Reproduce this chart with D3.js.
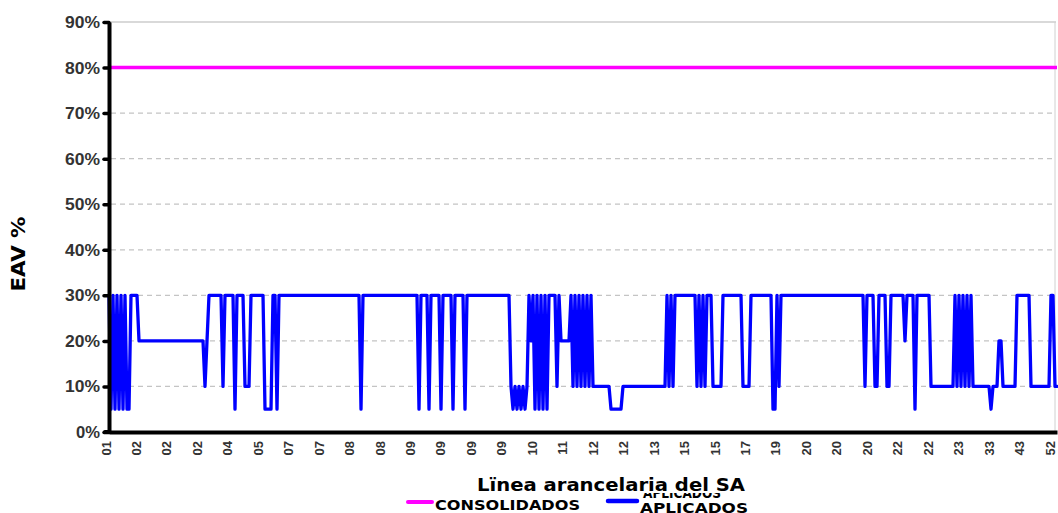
<!DOCTYPE html>
<html>
<head>
<meta charset="utf-8">
<script src="https://cdn.jsdelivr.net/npm/d3@7"></script>
<style>
  html, body { margin: 0; padding: 0; background: #ffffff; }
  svg { display: block; }
</style>
</head>
<body>
<svg id="chart" width="1058" height="513"></svg>
<script>
// ---- DATA ----
// Run-length encoded series: [value %, number of consecutive tariff lines]
const aplicadosRuns = [
  [30,1],[5,1],[30,1],[5,1],[30,1],[5,1],[30,1],[5,1],[30,1],[5,2],
  [30,4],[20,33],[10,1],[20,1],[30,7],[10,1],[30,5],[5,1],[30,4],[10,3],
  [30,7],[5,4],[30,2],[5,1],[30,41],[5,1],[30,28],[5,1],[30,4],[5,1],
  [30,5],[5,1],[30,5],[5,1],[30,5],[5,1],[30,22],
  [10,1],[5,1],[10,1],[5,1],[10,1],[5,1],[10,1],[5,1],[10,1],
  [30,1],[20,1],[30,1],
  [5,1],[30,1],[5,1],[30,1],[5,1],[30,1],[5,1],
  [30,4],[10,1],[30,1],[20,5],[30,1],
  [10,1],[30,1],[10,1],[30,1],[10,1],[30,1],[10,1],[30,1],[10,1],[30,1],
  [10,9],[5,6],[10,22],
  [30,1],[10,1],[30,1],[10,1],[30,11],
  [10,1],[30,1],[10,1],[30,1],[10,1],
  [30,3],[10,5],[30,10],[10,4],[30,11],[5,2],[30,1],[10,1],[30,42],
  [10,1],[30,4],[10,2],[30,4],[10,2],[30,7],[20,1],[30,4],[5,1],[30,7],
  [10,12],
  [30,1],[10,1],[30,1],[10,1],[30,1],[10,1],[30,1],[10,1],[30,1],
  [10,9],[5,1],[10,3],[20,2],[10,7],[30,7],[10,10],[30,2],[10,2]
];
const consolidadosRuns = [[80,475]];

const yTicks = [0,10,20,30,40,50,60,70,80,90];
const xTickLabels = ["01","02","02","02","04","05","07","07","08","08","09","09","09","09","10","11",
                     "12","12","13","15","15","17","19","20","20","20","22","22","23","33","43","52"];
const seriesNames = ["CONSOLIDADOS","APLICADOS"];
const seriesColors = ["#ff00ff","#0000ff"];

function expand(runs){ const out=[]; runs.forEach(([v,c])=>{ for(let k=0;k<c;k++) out.push(v); }); return out; }
const aplicados = expand(aplicadosRuns);
const consolidados = expand(consolidadosRuns);

// ---- LAYOUT ----
const svg = d3.select("#chart");
const mLeft = 109, mRight = 1057, mTop = 22, mBottom = 432;

const x = d3.scaleLinear().domain([0, aplicados.length - 1]).range([mLeft, mRight]);
const y = d3.scaleLinear().domain([0, 90]).range([mBottom, mTop]);

// gridlines
const grid = svg.append("g");
grid.selectAll("line").data(yTicks.filter(d => d > 0)).join("line")
  .attr("x1", mLeft + 2).attr("x2", 1056)
  .attr("y1", d => y(d)).attr("y2", d => y(d))
  .attr("stroke", d => d === 90 ? "#b4b4b4" : "#c4c4c4")
  .attr("stroke-width", 1.2)
  .attr("stroke-dasharray", d => d === 90 ? null : "5,4");
grid.append("line").attr("x1", 1055).attr("x2", 1055).attr("y1", y(90)).attr("y2", y(0))
  .attr("stroke", "#d0d0d0").attr("stroke-width", 1);

// series lines
const line = d3.line().x((d, i) => x(i)).y(d => y(d));
svg.append("path").datum(consolidados).attr("d", line)
  .attr("fill", "none").attr("stroke", seriesColors[0]).attr("stroke-width", 3.5);
svg.append("path").datum(aplicados).attr("d", line)
  .attr("fill", "none").attr("stroke", seriesColors[1]).attr("stroke-width", 3.3)
  .attr("stroke-linejoin", "round").attr("stroke-linecap", "round");

// y axis
const yAxis = svg.append("g").attr("transform", `translate(${mLeft},0)`)
  .call(d3.axisLeft(y).tickValues(yTicks).tickFormat(d => d + "%").tickSize(5).tickSizeOuter(0).tickPadding(4));
yAxis.select(".domain").attr("stroke", "#000").attr("stroke-width", 4);
yAxis.selectAll(".tick line").attr("stroke", "#000").attr("stroke-width", 3.5).attr("stroke-linecap", "round");
yAxis.selectAll(".tick text").attr("font-family", "Liberation Sans, Arial, sans-serif")
  .attr("font-size", 17).attr("font-weight", "bold").attr("fill", "#333")
  .attr("textLength", 35).attr("lengthAdjust", "spacingAndGlyphs");
yAxis.selectAll(".tick text").filter(d => d === 0).attr("textLength", 24);

// x axis
const xAxis = svg.append("g").attr("transform", `translate(0,${mBottom})`)
  .call(d3.axisBottom(x).tickValues([]).tickSizeOuter(0));
xAxis.select(".domain").attr("stroke", "#000").attr("stroke-width", 4);
svg.append("line").attr("x1", mLeft - 4).attr("x2", mLeft).attr("y1", mBottom).attr("y2", mBottom)
  .attr("stroke", "#000").attr("stroke-width", 4).attr("stroke-linecap", "round");

const xl = d3.scalePoint().domain(d3.range(xTickLabels.length)).range([mLeft + 1.5, 1054.5]);
svg.append("g").selectAll("text").data(xTickLabels).join("text")
  .attr("transform", (d, i) => `translate(${xl(i)},${mBottom + 9}) rotate(-90)`)
  .attr("text-anchor", "end")
  .attr("font-family", "Liberation Sans, Arial, sans-serif")
  .attr("font-size", 13).attr("font-weight", "bold").attr("fill", "#333")
  .text(d => d);

// axis titles
svg.append("text")
  .attr("transform", "translate(25,254) rotate(-90)")
  .attr("text-anchor", "middle")
  .attr("font-family", "DejaVu Sans, Verdana, sans-serif")
  .attr("font-size", 19).attr("font-weight", "bold").attr("fill", "#000")
  .attr("textLength", 75).attr("lengthAdjust", "spacingAndGlyphs")
  .text("EAV %");

svg.append("text")
  .attr("x", 477).attr("y", 491)
  .attr("font-family", "DejaVu Sans, Verdana, sans-serif")
  .attr("font-size", 18).attr("font-weight", "bold").attr("fill", "#000")
  .attr("textLength", 268).attr("lengthAdjust", "spacingAndGlyphs")
  .text("Lïnea arancelaria del SA");

// legend
const defs = svg.append("defs");
defs.append("clipPath").attr("id", "legclip").append("rect")
  .attr("x", 640).attr("y", 493).attr("width", 120).attr("height", 5);

svg.append("line").attr("x1", 408).attr("x2", 432).attr("y1", 502).attr("y2", 502)
  .attr("stroke", seriesColors[0]).attr("stroke-width", 4).attr("stroke-linecap", "round");
svg.append("text").attr("x", 435).attr("y", 510)
  .attr("font-family", "DejaVu Sans, Verdana, sans-serif")
  .attr("font-size", 14).attr("font-weight", "bold").attr("fill", "#000")
  .attr("textLength", 145).attr("lengthAdjust", "spacingAndGlyphs")
  .text(seriesNames[0]);

svg.append("line").attr("x1", 608).attr("x2", 637).attr("y1", 501).attr("y2", 501)
  .attr("stroke", seriesColors[1]).attr("stroke-width", 4.5).attr("stroke-linecap", "round");
svg.append("text").attr("x", 643).attr("y", 498)
  .attr("clip-path", "url(#legclip)")
  .attr("font-family", "DejaVu Sans, Verdana, sans-serif")
  .attr("font-size", 14).attr("font-weight", "bold").attr("fill", "#000")
  .attr("textLength", 78).attr("lengthAdjust", "spacingAndGlyphs")
  .text(seriesNames[1]);
svg.append("text").attr("x", 640).attr("y", 513)
  .attr("font-family", "DejaVu Sans, Verdana, sans-serif")
  .attr("font-size", 14).attr("font-weight", "bold").attr("fill", "#000")
  .attr("textLength", 108).attr("lengthAdjust", "spacingAndGlyphs")
  .text(seriesNames[1]);
</script>
</body>
</html>
